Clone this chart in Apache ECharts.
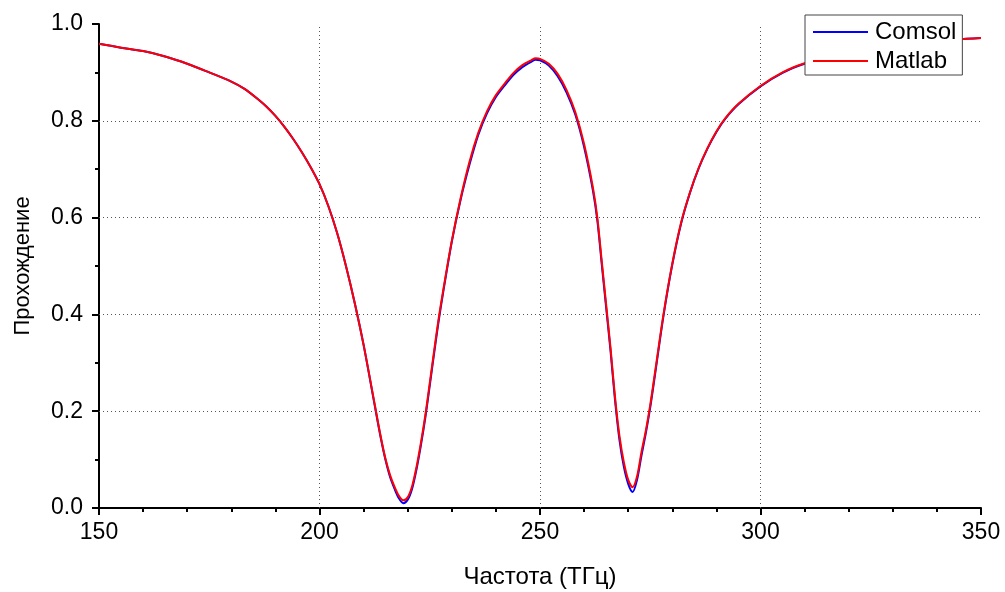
<!DOCTYPE html>
<html>
<head>
<meta charset="utf-8">
<title>Прохождение</title>
<script src="https://cdn.jsdelivr.net/npm/echarts@6/dist/echarts.min.js"></script>
<style>
  html, body { margin: 0; padding: 0; background: #fff; }
  #chart { width: 1005px; height: 592px; }
</style>
</head>
<body>
<div id="chart"></div>
<script>
  // частота, ТГц
  var freq = [150, 155, 160, 165, 170, 175, 180, 183, 186, 188,
    190, 192, 194, 196, 198, 200, 202, 204, 206, 208,
    210, 212, 213, 214, 215, 216, 217, 218, 219, 220,
    221, 222, 223, 224, 225, 226, 227, 228, 230, 232,
    234, 236, 238, 240, 242, 244, 246, 248, 249, 250,
    252, 254, 256, 258, 260, 262, 263, 264, 265, 266,
    267, 268, 269, 270, 271, 272, 273, 274, 275, 276,
    278, 280, 282, 284, 286, 288, 290, 292, 295, 300,
    305, 310, 320, 330, 340, 350]

  var comsol = [0.959, 0.951, 0.944, 0.933, 0.918, 0.900, 0.881, 0.866, 0.845, 0.829,
    0.810, 0.788, 0.763, 0.735, 0.704, 0.669, 0.624, 0.568, 0.500, 0.423,
    0.337, 0.238, 0.188, 0.140, 0.098, 0.064, 0.040, 0.020, 0.010, 0.017,
    0.040, 0.080, 0.130, 0.187, 0.253, 0.320, 0.385, 0.443, 0.550, 0.637,
    0.709, 0.771, 0.816, 0.849, 0.873, 0.895, 0.911, 0.922, 0.926, 0.925,
    0.914, 0.892, 0.859, 0.813, 0.746, 0.656, 0.594, 0.504, 0.414, 0.324,
    0.224, 0.142, 0.086, 0.050, 0.033, 0.058, 0.108, 0.155, 0.208, 0.270,
    0.397, 0.503, 0.588, 0.651, 0.702, 0.743, 0.777, 0.804, 0.834, 0.871,
    0.899, 0.918, 0.940, 0.955, 0.965, 0.971]

  var matlab = [0.959, 0.951, 0.944, 0.933, 0.918, 0.900, 0.881, 0.866, 0.845, 0.829,
    0.810, 0.788, 0.763, 0.735, 0.704, 0.669, 0.624, 0.568, 0.500, 0.423,
    0.337, 0.240, 0.190, 0.142, 0.100, 0.068, 0.044, 0.025, 0.016, 0.022,
    0.045, 0.085, 0.135, 0.192, 0.258, 0.325, 0.390, 0.447, 0.552, 0.640,
    0.715, 0.775, 0.820, 0.853, 0.877, 0.899, 0.915, 0.925, 0.929, 0.928,
    0.918, 0.897, 0.864, 0.818, 0.752, 0.662, 0.600, 0.510, 0.420, 0.330,
    0.230, 0.150, 0.095, 0.058, 0.043, 0.065, 0.115, 0.160, 0.213, 0.275,
    0.400, 0.505, 0.590, 0.652, 0.703, 0.744, 0.778, 0.805, 0.835, 0.872,
    0.900, 0.919, 0.940, 0.955, 0.965, 0.971]

  // внутренние линии сетки
  var gridX = [200, 250, 300]
  var gridY = [0.2, 0.4, 0.6, 0.8]

  function pairs(ys) {
    return freq.map(function (f, i) { return [f, ys[i]] })
  }

  var font = 'Arial, "Liberation Sans", sans-serif'
  var chart = echarts.init(document.getElementById('chart'))

  var gridLines = gridX.map(function (v) { return { xAxis: v } })
    .concat(gridY.map(function (v) { return { yAxis: v } }))

  chart.setOption({
    animation: false,
    textStyle: { fontFamily: font },
    grid: { left: 99, right: 24, top: 24, bottom: 84, outerBoundsMode: 'none', containLabel: false },
    legend: {
      orient: 'vertical',
      left: 805,
      top: 15,
      z: 20,
      padding: [5, 6, 2, 8],
      itemGap: 5,
      itemWidth: 55,
      itemHeight: 2,
      icon: 'rect',
      backgroundColor: '#fff',
      borderColor: '#444',
      borderWidth: 1,
      borderRadius: 0,
      textStyle: { fontSize: 24, color: '#000', fontFamily: font, padding: [0, 0, 0, 2] },
      data: ['Comsol', 'Matlab']
    },
    xAxis: {
      type: 'value',
      min: 150,
      max: 350,
      interval: 50,
      name: 'Частота (ТГц)',
      nameLocation: 'middle',
      nameGap: 57,
      nameTextStyle: { fontSize: 24, color: '#000' },
      axisLine: { onZero: false, lineStyle: { color: '#000', width: 2 } },
      axisTick: { length: 7, lineStyle: { color: '#000', width: 2 } },
      minorTick: { show: true, splitNumber: 5, length: 4, lineStyle: { color: '#000', width: 2 } },
      axisLabel: { fontSize: 23, color: '#000', margin: 13 },
      splitLine: { show: false }
    },
    yAxis: {
      type: 'value',
      min: 0,
      max: 1,
      interval: 0.2,
      name: 'Прохождение',
      nameLocation: 'middle',
      nameGap: 65,
      nameRotate: 90,
      nameTextStyle: { fontSize: 22, color: '#000' },
      axisLine: { show: true, onZero: false, lineStyle: { color: '#000', width: 2 } },
      axisTick: { show: true, length: 7, lineStyle: { color: '#000', width: 2 } },
      minorTick: { show: true, splitNumber: 2, length: 4, lineStyle: { color: '#000', width: 2 } },
      axisLabel: {
        fontSize: 23, color: '#000', margin: 16,
        formatter: function (v) { return v.toFixed(1) }
      },
      splitLine: { show: false }
    },
    series: [
      {
        name: 'Comsol',
        type: 'line',
        data: pairs(comsol),
        showSymbol: false,
        symbol: 'none',
        smooth: 0.3,
        color: '#0000ff',
        lineStyle: { color: '#0000ff', width: 2 },
        z: 3,
        markLine: {
          silent: true,
          symbol: 'none',
          label: { show: false },
          lineStyle: { color: '#555', type: [1, 3], width: 1 },
          data: gridLines,
          z: 1
        }
      },
      {
        name: 'Matlab',
        type: 'line',
        data: pairs(matlab),
        showSymbol: false,
        symbol: 'none',
        smooth: 0.3,
        color: '#ff0000',
        lineStyle: { color: '#ff0000', width: 2 },
        z: 4
      }
    ]
  })
</script>
</body>
</html>
